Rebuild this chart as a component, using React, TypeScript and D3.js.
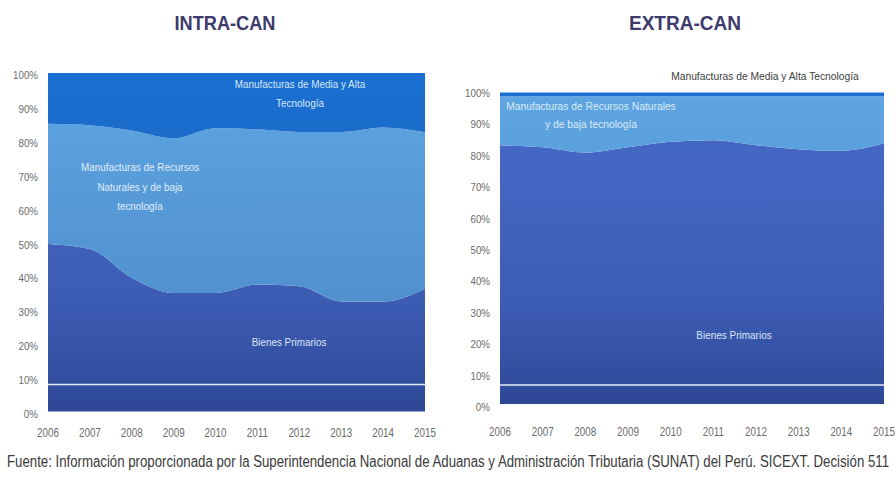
import React from "react";
import * as d3 from "d3";

// ---------- DATA ----------
const years = [2006, 2007, 2008, 2009, 2010, 2011, 2012, 2013, 2014, 2015];
const seriesKeys = ["primarios", "recursos", "mediaAlta"];
const yTicks = [0, 10, 20, 30, 40, 50, 60, 70, 80, 90, 100];

const intraPrimarios = [49.5, 48, 39.5, 35, 35, 37.5, 37, 32.5, 32.5, 36.3];
const intraRecursos = [35.5, 36.6, 43.5, 45.7, 48.7, 45.9, 45.6, 50.1, 51.4, 46.2];
const intraMediaAlta = [15, 15.4, 17, 19.3, 16.3, 16.6, 17.4, 17.4, 16.1, 17.5];

const extraPrimarios = [83.1, 82.4, 80.7, 82.4, 84.2, 84.7, 83.1, 81.8, 81.3, 83.7];
const extraRecursos = [15.7, 16.4, 18.1, 16.4, 14.6, 14.1, 15.7, 17.0, 17.5, 15.1];
const extraMediaAlta = [1.2, 1.2, 1.2, 1.2, 1.2, 1.2, 1.2, 1.2, 1.2, 1.2];

const titles = ["INTRA-CAN", "EXTRA-CAN"];
const footer =
  "Fuente: Información proporcionada por la Superintendencia Nacional de Aduanas y Administración Tributaria (SUNAT) del Perú. SICEXT. Decisión 511";

// ---------- LAYOUT ----------
const W = 896;
const H = 477;
const FONT = "'Liberation Sans', Arial, sans-serif";

type Label = { lines: string[]; x: number; y: number; lh: number; color: string; size: number; sx: number };

type PanelCfg = {
  id: string;
  title: string;
  titleX: number;
  titleLen: number;
  x0: number;
  x1: number;
  yTop: number;
  yBot: number;
  tickRight: number;
  tickY100: number;
  tickY0: number;
  yearY: number;
  whiteLineY: number;
  primarios: number[];
  recursos: number[];
  mediaAlta: number[];
  labels: Label[];
};

const panels: PanelCfg[] = [
  {
    id: "intra",
    title: titles[0],
    titleX: 225,
    titleLen: 101,
    x0: 48,
    x1: 425,
    yTop: 73,
    yBot: 411.5,
    tickRight: 38,
    tickY100: 75,
    tickY0: 414,
    yearY: 437,
    whiteLineY: 384.5,
    primarios: intraPrimarios,
    recursos: intraRecursos,
    mediaAlta: intraMediaAlta,
    labels: [
      { lines: ["Manufacturas de Media y Alta", "Tecnología"], x: 300, y: 88, lh: 19, color: "#d7e7f7", size: 11, sx: 0.9 },
      { lines: ["Manufacturas de Recursos", "Naturales y de baja", "tecnología"], x: 140, y: 171, lh: 19.5, color: "#e1edf8", size: 11, sx: 0.9 },
      { lines: ["Bienes Primarios"], x: 289, y: 346, lh: 19, color: "#dbe6f8", size: 11, sx: 0.9 },
    ],
  },
  {
    id: "extra",
    title: titles[1],
    titleX: 685,
    titleLen: 112,
    x0: 500,
    x1: 884,
    yTop: 92.5,
    yBot: 404,
    tickRight: 490,
    tickY100: 93,
    tickY0: 407,
    yearY: 436,
    whiteLineY: 385,
    primarios: extraPrimarios,
    recursos: extraRecursos,
    mediaAlta: extraMediaAlta,
    labels: [
      { lines: ["Manufacturas de Media y Alta Tecnología"], x: 765, y: 80, lh: 17, color: "#404040", size: 10.5, sx: 0.98 },
      { lines: ["Manufacturas de Recursos Naturales", "y de baja tecnología"], x: 591, y: 110, lh: 17.5, color: "#dce9f6", size: 10.5, sx: 0.98 },
      { lines: ["Bienes Primarios"], x: 734, y: 339, lh: 17, color: "#dbe6f8", size: 10.5, sx: 0.95 },
    ],
  },
];

function Condensed({ x, y, anchor, size, fill, sx, sy, children, weight }: any) {
  return (
    <g transform={`translate(${x},${y}) scale(${sx},${sy || 1})`}>
      <text x={0} y={0} textAnchor={anchor} fontFamily={FONT} fontSize={size} fill={fill} fontWeight={weight || "normal"}>
        {children}
      </text>
    </g>
  );
}

function Panel({ cfg }: { cfg: PanelCfg }) {
  const table = years.map((yr, i) => ({
    year: yr,
    primarios: cfg.primarios[i],
    recursos: cfg.recursos[i],
    mediaAlta: cfg.mediaAlta[i],
  }));
  const stacked = d3.stack<any>().keys(seriesKeys)(table);
  const x = d3.scaleLinear().domain([years[0], years[years.length - 1]]).range([cfg.x0, cfg.x1]);
  const y = d3.scaleLinear().domain([0, 100]).range([cfg.yBot, cfg.yTop]);
  const yTick = d3.scaleLinear().domain([0, 100]).range([cfg.tickY0, cfg.tickY100]);
  const area = d3
    .area<any>()
    .x((d) => x(d.data.year))
    .y0((d) => y(d[0]))
    .y1((d) => y(Math.min(100, d[1])))
    .curve(d3.curveMonotoneX);
  const fills = [`url(#${cfg.id}-g0)`, `url(#${cfg.id}-g1)`, `url(#${cfg.id}-g2)`];
  const xYears = d3.scalePoint<number>().domain(years).range([cfg.x0, cfg.x1]);

  return (
    <g>
      <defs>
        <linearGradient id={`${cfg.id}-g0`} gradientUnits="userSpaceOnUse" x1="0" x2="0" y1={cfg.yTop + 60} y2={cfg.yBot}>
          <stop offset="0" stopColor="#4567c4" />
          <stop offset="0.6" stopColor="#3d5cb4" />
          <stop offset="1" stopColor="#2e4896" />
        </linearGradient>
        <linearGradient id={`${cfg.id}-g1`} gradientUnits="userSpaceOnUse" x1="0" x2="0" y1={cfg.yTop} y2={cfg.yBot}>
          <stop offset="0" stopColor="#5ea6e2" />
          <stop offset="1" stopColor="#4a86c6" />
        </linearGradient>
        <linearGradient id={`${cfg.id}-g2`} gradientUnits="userSpaceOnUse" x1="0" x2="0" y1={cfg.yTop} y2={cfg.yTop + 60}>
          <stop offset="0" stopColor="#1a6fd2" />
          <stop offset="1" stopColor="#1b6ccb" />
        </linearGradient>
      </defs>
      <text
        x={cfg.titleX}
        y={30}
        textAnchor="middle"
        fontFamily={FONT}
        fontWeight="bold"
        fontSize={20}
        fill="#3d3a6c"
        textLength={cfg.titleLen}
        lengthAdjust="spacingAndGlyphs"
      >
        {cfg.title}
      </text>
      {stacked.map((s, i) => (
        <path key={s.key} d={area(s) || ""} fill={fills[i]} />
      ))}
      <line
        x1={cfg.x0}
        x2={cfg.x1}
        y1={cfg.whiteLineY}
        y2={cfg.whiteLineY}
        stroke="#e6eef8"
        strokeWidth={1.5}
      />
      {yTicks.map((t) => (
        <Condensed key={t} x={cfg.tickRight} y={yTick(t) + 4} anchor="end" size={11.5} fill="#6b6b6b" sx={0.85}>
          {t}%
        </Condensed>
      ))}
      {years.map((yr) => (
        <Condensed key={yr} x={xYears(yr)} y={cfg.yearY} anchor="middle" size={12} fill="#6b6b6b" sx={0.82}>
          {yr}
        </Condensed>
      ))}
      {cfg.labels.map((lb, i) =>
        lb.lines.map((ln, j) => (
          <Condensed
            key={`${i}-${j}`}
            x={lb.x}
            y={lb.y + j * lb.lh}
            anchor="middle"
            size={lb.size}
            fill={lb.color}
            sx={lb.sx}
          >
            {ln}
          </Condensed>
        ))
      )}
    </g>
  );
}

export default function App() {
  return (
    <svg
      width={W}
      height={H}
      viewBox={`0 0 ${W} ${H}`}
      style={{ position: "absolute", left: 0, top: 0, background: "#ffffff" }}
    >
      <rect x={0} y={0} width={W} height={H} fill="#ffffff" />
      {panels.map((p) => (
        <Panel key={p.id} cfg={p} />
      ))}
      <g transform="translate(7,467) scale(1,1.2)">
        <text
          x={0}
          y={0}
          fontFamily={FONT}
          fontSize={13}
          fill="#3a3a3a"
          textLength={882}
          lengthAdjust="spacingAndGlyphs"
        >
          {footer}
        </text>
      </g>
    </svg>
  );
}
